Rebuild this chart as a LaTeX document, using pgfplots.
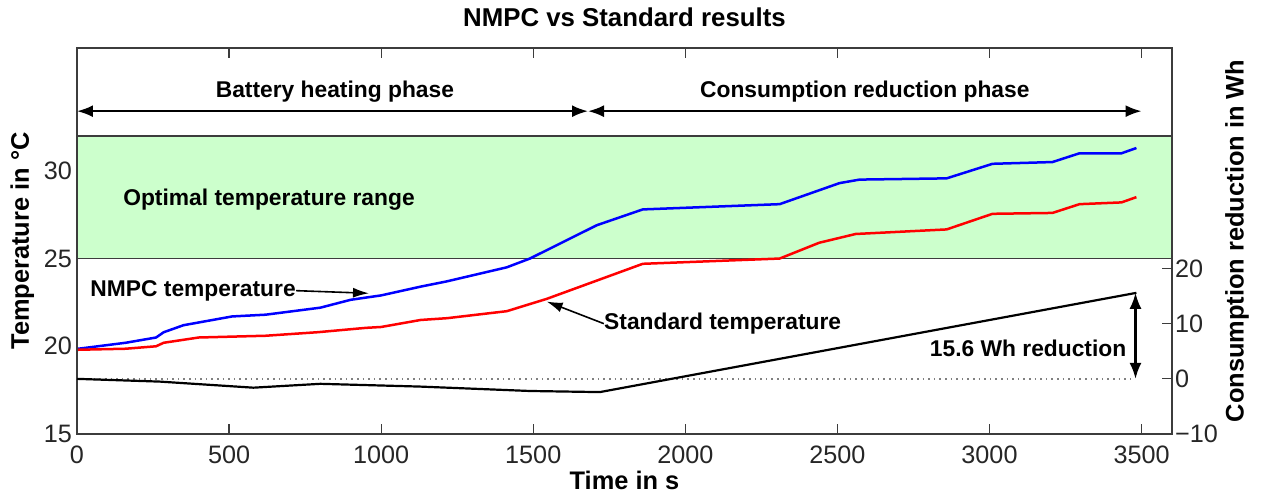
\documentclass[border=0pt]{standalone}
\usepackage{fontspec}
\setmainfont{Liberation Sans}
\usepackage{pgfplots}
\pgfplotsset{compat=1.18}
\usetikzlibrary{arrows.meta}
\definecolor{bandgreen}{RGB}{204,255,204}
\definecolor{axgray}{RGB}{60,60,60}
\newcommand{\annfont}{\fontsize{11.4}{13}\selectfont\bfseries}
\newcommand{\labfont}{\fontsize{12.7}{15}\selectfont\bfseries}
\begin{document}
\begin{tikzpicture}
\begin{axis}[
  name=main,
  scale only axis,
  width=547.5pt, height=193pt,
  xmin=0, xmax=3600, ymin=15, ymax=37,
  xtick={0,500,...,3500},
  ytick={15,20,25,30},
  tick align=inside,
  major tick length=5pt,
  ytick style={draw=none},
  axis line style={axgray, line width=0.8pt},
  xtick style={axgray, line width=0.6pt},
  /pgf/number format/assume math mode=true,
  /pgf/number format/1000 sep={},
  tick label style={font=\fontsize{12.6}{14}\selectfont, text=black!85},
  xticklabel style={yshift=-2.3pt},
  yticklabel style={xshift=1pt},
  title={NMPC vs Standard results},
  title style={font=\fontsize{12.9}{15}\selectfont\bfseries, at={(axis description cs:0.5,1)}, anchor=center, yshift=9.5pt},
  xlabel={Time in s},
  xlabel style={font=\labfont, at={(axis description cs:0.5,0)}, anchor=center, yshift=-23pt},
  ylabel={Temperature in °C},
  ylabel style={font=\labfont, at={(axis description cs:-0.050,0.5)}, anchor=center},
  axis on top,
  clip=false,
]
% optimal temperature band
\addplot[draw=none, fill=bandgreen, forget plot] coordinates {(0,25) (3600,25) (3600,32) (0,32) (0,25)};
\addplot[axgray, line width=0.8pt, forget plot] coordinates {(0,25) (3600,25)};
\addplot[axgray, line width=0.8pt, forget plot] coordinates {(0,32) (3600,32)};
% NMPC temperature
\addplot[blue, line width=1.25pt] coordinates {
(0,19.85) (160,20.2) (260,20.5) (285,20.8) (350,21.2) (510,21.7) (620,21.8)
(800,22.2) (900,22.65) (1000,22.9) (1130,23.4) (1216,23.7) (1413,24.5)
(1489,25.0) (1709,26.9) (1860,27.8) (2310,28.1) (2507,29.3) (2573,29.5)
(2859,29.57) (3010,30.4) (3207,30.5) (3296,31.0) (3434,31.0) (3483,31.3)};
% Standard temperature
\addplot[red, line width=1.25pt] coordinates {
(0,19.8) (160,19.86) (260,20.0) (285,20.2) (400,20.5) (620,20.6) (790,20.8)
(950,21.05) (1000,21.1) (1130,21.5) (1216,21.6) (1413,22.0) (1544,22.7)
(1860,24.7) (2310,25.0) (2440,25.9) (2560,26.4) (2859,26.66) (3010,27.55)
(3207,27.6) (3296,28.1) (3434,28.2) (3483,28.5)};
% phase arrows
\draw[black, line width=1.1pt, {Latex[length=8pt,width=6pt]}-{Latex[length=8pt,width=6pt]}] (0,33.4) -- (1680,33.4);
\draw[black, line width=1.1pt, {Latex[length=8pt,width=6pt]}-{Latex[length=8pt,width=6pt]}] (1680,33.4) -- (3500,33.4);
\node[font=\annfont] at (848,34.5) {Battery heating phase};
\node[font=\annfont] at (2590,34.5) {Consumption reduction phase};
\node[font=\annfont, anchor=west, inner sep=0pt] at (151,28.37) {Optimal temperature range};
\node[font=\annfont, anchor=west, inner sep=0pt] (nmpc) at (43,23.17) {NMPC temperature};
\draw[black, line width=0.8pt, -{Latex[length=8pt,width=5pt]}] (nmpc.east) -- (960,23.02);
\node[font=\annfont, anchor=west, inner sep=0pt] (std) at (1732,21.29) {Standard temperature};
\draw[black, line width=0.8pt, -{Latex[length=8pt,width=5pt]}] (std.west) -- (1544,22.55);
\end{axis}
\begin{axis}[
  scale only axis,
  width=547.5pt, height=193pt,
  xmin=0, xmax=3600, ymin=-10, ymax=60,
  axis x line=none,
  axis y line*=right,
  ytick={-10,0,10,20},
  yticklabels={−10,0,10,20},
  tick align=inside,
  major tick length=5pt,
  axis line style={axgray, line width=0.8pt, -},
  ytick style={axgray, line width=0.6pt},
  tick label style={font=\fontsize{12.6}{14}\selectfont, text=black!85},
  yticklabel style={xshift=-2pt},
  ylabel={Consumption reduction in Wh},
  ylabel style={font=\labfont, at={(axis description cs:1.0594,0.5)}, anchor=center},
  clip=false,
]
\addplot[gray, dotted, line width=0.8pt, forget plot] coordinates {(0,0) (3470,0)};
\addplot[black, line width=1.1pt] coordinates {
(0,0) (273,-0.5) (580,-1.6) (800,-0.9) (1127,-1.4) (1489,-2.2) (1719,-2.4) (3483,15.6)};
\draw[black, line width=1.1pt, {Latex[length=8pt,width=6pt]}-{Latex[length=8pt,width=6pt]}] (3480,0) -- (3480,15.6);
\node[font=\annfont, anchor=east, inner sep=0pt] at (3451,5.45) {15.6 Wh reduction};
\end{axis}
\pgfresetboundingbox
\path[use as bounding box] ([shift={(-38.5pt,-29.5pt)}]main.south west) rectangle ++(632pt,246.5pt);
\end{tikzpicture}
\end{document}
